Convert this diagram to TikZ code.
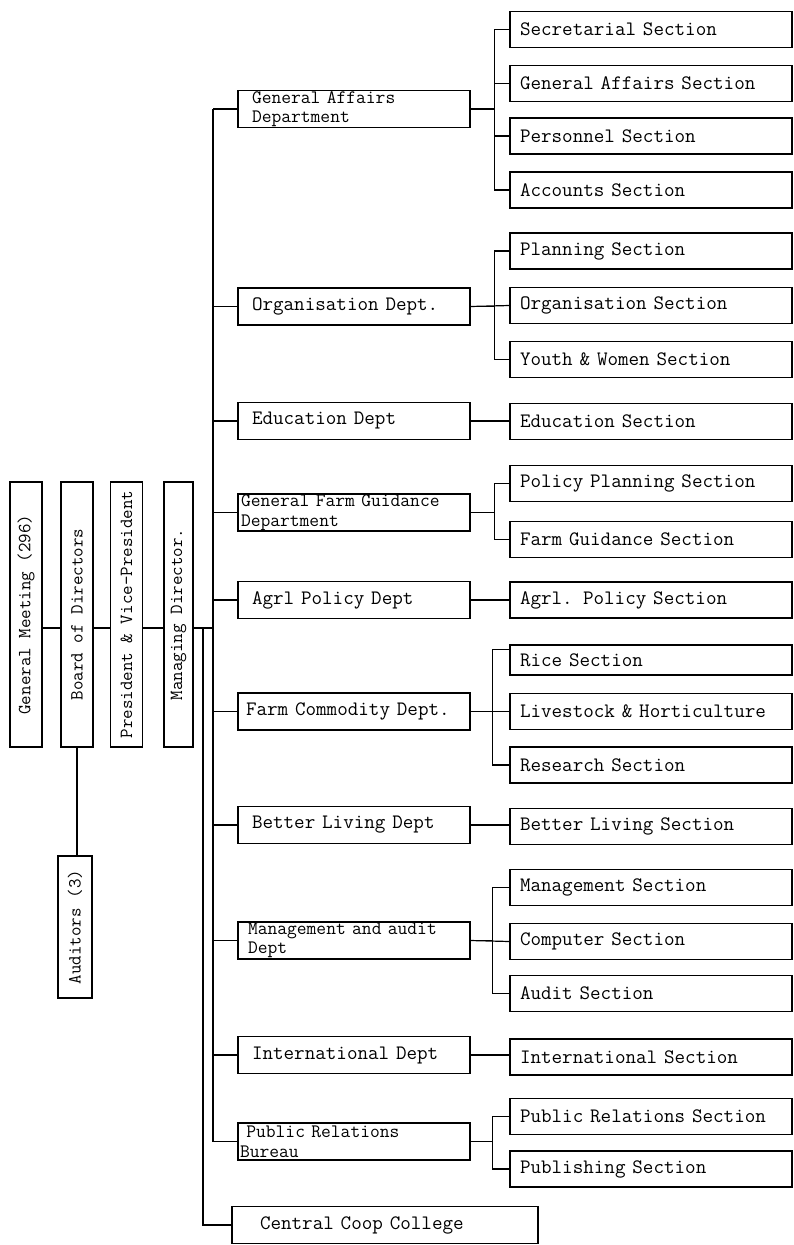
\documentclass[tikz,border=0pt]{standalone}
\begin{document}
\begin{tikzpicture}[x=1pt, y=-1pt, line width=1.2pt,
  rot/.style = {draw, rotate=90, minimum height=32pt, inner sep=2pt, font=\fontsize{18.5}{18.5}\selectfont\ttfamily},
  dept/.style = {draw, minimum height=37pt, inner xsep=14pt, inner ysep=1pt, text width=204pt, align=left, font=\fontsize{20.5}{18}\selectfont\ttfamily},
  two/.style = {inner ysep=0pt, font=\fontsize{19}{19.5}\selectfont\ttfamily},
  sec/.style = {draw, minimum height=36pt, inner xsep=10pt, inner ysep=1pt, text width=262pt, align=left, font=\fontsize{20.5}{20.5}\selectfont\ttfamily}]
\useasboundingbox (0,0) rectangle (794,1245);

\node[rot, minimum width=265pt] (gm) at (26,614.5) {General Meeting (296)};
\node[rot, minimum width=265pt] (bd) at (77,614.5) {Board of Directors};
\node[rot, minimum width=265pt] (pv) at (126.5,614.5) {President \& Vice-President};
\node[rot, minimum width=265pt, minimum height=29pt] (md) at (178.5,614.5) {Managing Director.};
\node[rot, minimum width=142pt, minimum height=34pt] (au) at (75,927) {Auditors (3)};

\coordinate (lvl) at (0,628);
\coordinate (bus) at (213,0);
\coordinate (bus2) at (203,0);

\node[dept, two] (ga) at (354,109) {General Affairs\\Department};
\node[dept] (og) at (354,306.5) {Organisation Dept.};
\node[dept] (ed) at (354,421) {Education Dept};
\node[dept, two, inner xsep=3pt, text width=226pt] (fg) at (354,512.5) {General Farm Guidance\\Department};
\node[dept] (ap) at (354,600) {Agrl Policy Dept};
\node[dept, inner xsep=8pt, text width=216pt] (fc) at (354,711.5) {Farm Commodity Dept.};
\node[dept] (bl) at (354,825) {Better Living Dept};
\node[dept, two, inner xsep=10pt, text width=212pt] (ma) at (354,940.5) {Management and audit\\Dept};
\node[dept] (in) at (354,1055) {International Dept};
\node[dept, two, inner xsep=2pt, text width=228pt] (pr) at (354,1141.5) {\ Public Relations\\Bureau};
\node[dept, inner xsep=28pt, text width=250pt] (cc) at (385,1225) {Central Coop College};

\node[sec] (s1) at (651,29.5) {Secretarial Section};
\node[sec] (s2) at (651,83.5) {General Affairs Section};
\node[sec] (s3) at (651,136) {Personnel Section};
\node[sec] (s4) at (651,190) {Accounts Section};
\node[sec] (o1) at (651,251) {Planning Section};
\node[sec] (o2) at (651,305.5) {Organisation Section};
\node[sec] (o3) at (651,359.5) {Youth \& Women Section};
\node[sec] (e1) at (651,421.5) {Education Section};
\node[sec] (f1) at (651,483.5) {Policy Planning Section};
\node[sec] (f2) at (651,539.5) {Farm Guidance Section};
\node[sec] (a1) at (651,600) {Agrl. Policy Section};
\node[sec, minimum height=30pt] (c1) at (651,660) {Rice Section};
\node[sec] (c2) at (651,711.5) {Livestock \& Horticulture};
\node[sec] (c3) at (651,765) {Research Section};
\node[sec] (b1) at (651,826.5) {Better Living Section};
\node[sec] (m1) at (651,887.5) {Management Section};
\node[sec] (m2) at (651,941.5) {Computer Section};
\node[sec] (m3) at (651,993.5) {Audit Section};
\node[sec] (i1) at (651,1057) {International Section};
\node[sec] (p1) at (651,1116.5) {Public Relations Section};
\node[sec] (p2) at (651,1169) {Publishing Section};

\draw (gm.south |- lvl) -- (bd.north |- lvl);
\draw (bd.south |- lvl) -- (pv.north |- lvl);
\draw (pv.south |- lvl) -- (md.north |- lvl);
\draw (md.south |- lvl) -- (lvl -| bus);
\draw (bd.west) -- (bd.west |- au.east);

\draw (ga.west -| bus) -- (pr.west -| bus);
\draw (lvl -| bus2) |- (cc.west);
\draw (ga.west) -- (ga.west -| bus);
\draw (og.west) -- (og.west -| bus);
\draw (ed.west) -- (ed.west -| bus);
\draw (fg.west) -- (fg.west -| bus);
\draw (ap.west) -- (ap.west -| bus);
\draw (fc.west) -- (fc.west -| bus);
\draw (bl.west) -- (bl.west -| bus);
\draw (ma.west) -- (ma.west -| bus);
\draw (in.west) -- (in.west -| bus);
\draw (pr.west) -- (pr.west -| bus);

\draw (ga.east) -- +(24,0) |- (s1.west);
\draw (ga.east) -- +(24,0) |- (s2.west);
\draw (ga.east) -- +(24,0) |- (s3.west);
\draw (ga.east) -- +(24,0) |- (s4.west);
\draw (og.east) -- +(24,0) |- (o1.west);
\draw (og.east) -- (o2.west);
\draw (og.east) -- +(24,0) |- (o3.west);
\draw (ed.east) -- (ed.east -| e1.west);
\draw (fg.east) -- +(24,0) |- (f1.west);
\draw (fg.east) -- +(24,0) |- (f2.west);
\draw (ap.east) -- (ap.east -| a1.west);
\draw (fc.east) -- +(22,0) |- ([yshift=-5pt]c1.north west);
\draw (fc.east) -- (c2.west);
\draw (fc.east) -- +(22,0) |- (c3.west);
\draw (bl.east) -- (bl.east -| b1.west);
\draw (ma.east) -- +(22,0) |- (m1.west);
\draw (ma.east) -- (m2.west);
\draw (ma.east) -- +(22,0) |- (m3.west);
\draw (in.east) -- (in.east -| i1.west);
\draw (pr.east) -- +(22,0) |- (p1.west);
\draw (pr.east) -- +(22,0) |- (p2.west);
\end{tikzpicture}
\end{document}
